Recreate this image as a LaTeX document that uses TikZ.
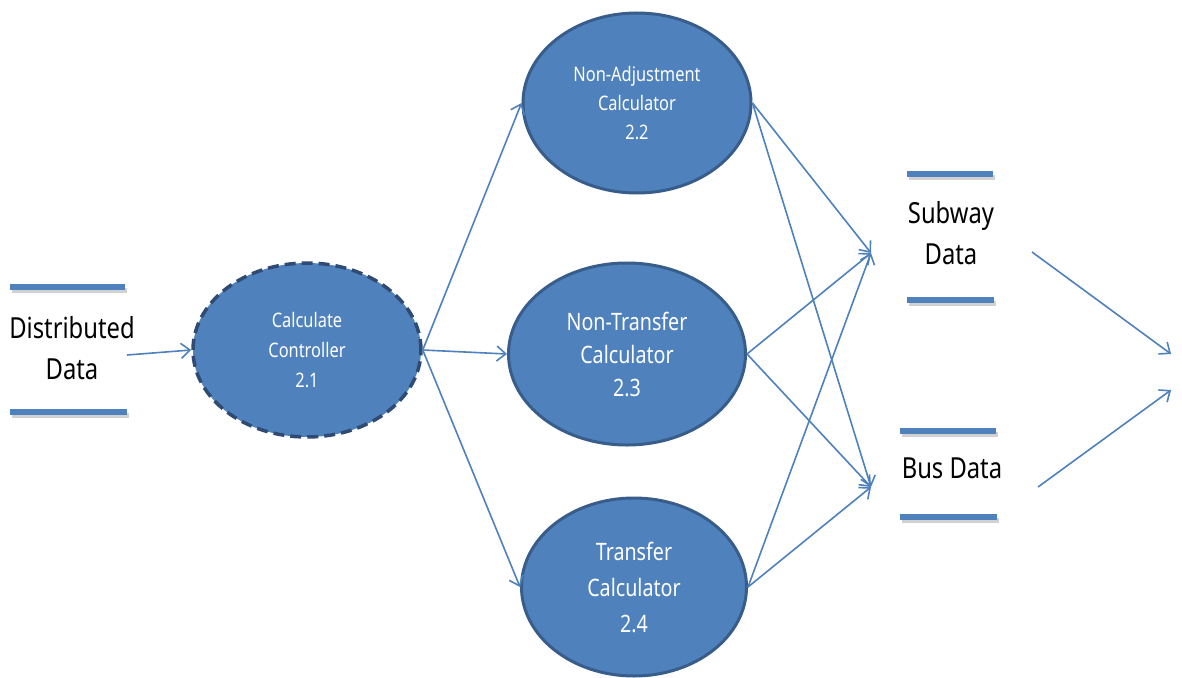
\documentclass[tikz,border=0pt]{standalone}
\usepackage{fontspec}
\setmainfont{Noto Sans}[FakeStretch=0.82]
\usetikzlibrary{shapes.geometric,arrows.meta}
\definecolor{flowblue}{HTML}{4F81BD}
\definecolor{rimblue}{HTML}{385D8A}
\definecolor{dashrim}{HTML}{2F4B73}
\begin{document}
\begin{tikzpicture}[x=1pt,y=-1pt,
  proc/.style={ellipse, fill=flowblue, draw=rimblue, line width=3pt, inner sep=0pt, text=white, align=center},
  flow/.style={draw=flowblue, line width=1.6pt, -{Straight Barb[length=9pt,width=15pt]}},
  storebar/.style={draw=flowblue, line width=6pt},
  barshadow/.style={draw=black!40, opacity=0.45, line width=5pt},
  storetext/.style={align=center, text=black, font=\fontsize{29}{41}\selectfont}]
\useasboundingbox (0,0) rectangle (1182,677);
\fill[white] (0,0) rectangle (1182,677);

% processes
\node[proc, draw=dashrim, line width=3.5pt, dash pattern=on 11pt off 6pt, minimum width=228pt, minimum height=174pt,
      font=\fontsize{20}{30}\selectfont] (c21) at (307,350) {Calculate\\Controller\\2.1};
\node[proc, minimum width=228pt, minimum height=180pt,
      font=\fontsize{20}{29}\selectfont] (c22) at (637,103) {Non-Adjustment\\Calculator\\2.2};
\node[proc, minimum width=237pt, minimum height=182pt,
      font=\fontsize{24}{33}\selectfont] (c23) at (627,354) {Non-Transfer\\Calculator\\2.3};
\node[proc, minimum width=225pt, minimum height=178pt,
      font=\fontsize{24}{36}\selectfont] (c24) at (634,587) {Transfer\\Calculator\\2.4};

% data stores
\node[storetext] (dist) at (72,348) {Distributed\\Data};
\node[storetext] (subway) at (951,233) {Subway\\Data};
\node[storetext] (bus) at (952,468) {Bus Data};

\foreach \xa/\xb/\yy in {10/125/287, 10/127/412, 907/993/174, 907/994/300, 900/996/431, 900/997/517}{
  \draw[barshadow] (\xa+2,\yy+3) -- (\xb+2,\yy+3);
  \draw[storebar] (\xa,\yy) -- (\xb,\yy);
}

% free ends
\coordinate (distout) at (127,355);
\coordinate (subin) at (871,253);
\coordinate (busin) at (871,487);
\coordinate (subout) at (1032,252);
\coordinate (busout) at (1038,487);
\coordinate (sinkA) at (1171,354);
\coordinate (sinkB) at (1171,390);

% connectors
\draw[flow] (distout) -- (c21.west);
\draw[flow] (c21.east) -- (c22.west);
\draw[flow] (c21.east) -- (c23.west);
\draw[flow] (c21.east) -- (c24.west);
\foreach \src in {c22,c23,c24}{
  \draw[flow] (\src.east) -- (subin);
  \draw[flow] (\src.east) -- (busin);
}
\draw[flow] (subout) -- (sinkA);
\draw[flow] (busout) -- (sinkB);
\end{tikzpicture}
\end{document}
